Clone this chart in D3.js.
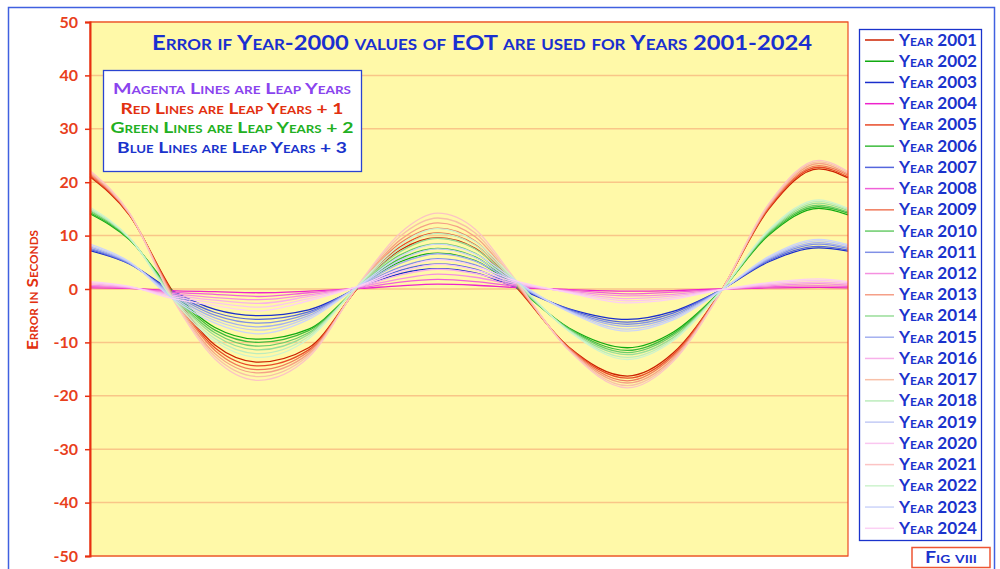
<!DOCTYPE html>
<html>
<head>
<meta charset="utf-8">
<script src="https://cdn.jsdelivr.net/npm/d3@7"></script>
<style>
    body { margin: 0; background: #fff; }
    svg text { font-family: Lato, "Open Sans", sans-serif; font-weight: 700; font-variant: small-caps; }
</style>
</head>
<body>
<div id="chart"></div>
<script>
var days = [1, 20, 40, 61, 82, 106, 131, 150, 168, 186, 204, 231, 259, 281, 303, 327, 351, 365];

// error in seconds, one array per year
var y2001 = [21.0, 13.8, 0.0, -10.5, -13.7, -11.0, 0.8, 7.3, 9.6, 7.6, 1.0, -10.9, -16.3, -12.0, -1.0, 15.0, 22.5, 20.8];
var y2002 = [14.1, 9.2, -0.1, -7.2, -9.4, -7.5, 0.6, 5.1, 6.7, 5.3, 0.8, -7.3, -11.0, -8.1, -0.7, 10.1, 15.1, 13.9];
var y2003 = [7.2, 4.7, -0.2, -3.8, -5.0, -3.9, 0.3, 2.9, 3.8, 3.0, 0.5, -3.7, -5.7, -4.2, -0.4, 5.1, 7.7, 7.1];
var y2004 = [0.2, 0.1, -0.3, -0.5, -0.7, -0.4, 0.1, 0.6, 0.9, 0.7, 0.3, -0.1, -0.4, -0.3, 0.0, 0.2, 0.3, 0.2];
var y2005 = [21.2, 13.9, -0.3, -11.0, -14.4, -11.4, 0.9, 7.9, 10.5, 8.3, 1.3, -11.0, -16.7, -12.3, -1.0, 15.2, 22.8, 21.0];
var y2006 = [14.3, 9.3, -0.4, -7.7, -10.0, -7.8, 0.7, 5.7, 7.6, 6.0, 1.0, -7.4, -11.5, -8.4, -0.7, 10.3, 15.4, 14.2];
var y2007 = [7.4, 4.7, -0.5, -4.4, -5.7, -4.3, 0.5, 3.5, 4.7, 3.7, 0.8, -3.8, -6.2, -4.5, -0.4, 5.3, 8.0, 7.3];
var y2008 = [0.5, 0.2, -0.6, -1.0, -1.4, -0.7, 0.2, 1.3, 1.8, 1.4, 0.6, -0.2, -0.9, -0.6, -0.1, 0.4, 0.6, 0.5];
var y2009 = [21.5, 14.0, -0.6, -11.5, -15.1, -11.7, 1.0, 8.6, 11.4, 9.0, 1.6, -11.1, -17.2, -12.6, -1.1, 15.4, 23.1, 21.3];
var y2010 = [14.6, 9.4, -0.7, -8.2, -10.7, -8.2, 0.8, 6.4, 8.5, 6.7, 1.3, -7.5, -11.9, -8.7, -0.8, 10.5, 15.7, 14.4];
var y2011 = [7.6, 4.8, -0.7, -4.9, -6.4, -4.6, 0.6, 4.1, 5.7, 4.5, 1.1, -4.0, -6.6, -4.9, -0.4, 5.5, 8.4, 7.6];
var y2012 = [0.7, 0.2, -0.8, -1.6, -2.0, -1.1, 0.4, 1.9, 2.8, 2.2, 0.8, -0.4, -1.3, -1.0, -0.1, 0.6, 1.0, 0.7];
var y2013 = [21.7, 14.0, -0.8, -12.1, -15.7, -12.1, 1.2, 9.2, 12.4, 9.8, 1.8, -11.3, -17.6, -13.0, -1.1, 15.6, 23.5, 21.5];
var y2014 = [14.8, 9.5, -0.9, -8.7, -11.4, -8.5, 0.9, 7.0, 9.5, 7.5, 1.6, -7.7, -12.3, -9.1, -0.8, 10.7, 16.1, 14.7];
var y2015 = [7.9, 4.9, -1.0, -5.4, -7.1, -5.0, 0.7, 4.8, 6.6, 5.2, 1.4, -4.1, -7.0, -5.2, -0.5, 5.7, 8.7, 7.8];
var y2016 = [1.0, 0.3, -1.1, -2.1, -2.7, -1.4, 0.5, 2.6, 3.7, 2.9, 1.1, -0.5, -1.8, -1.3, -0.2, 0.8, 1.3, 1.0];
var y2017 = [22.0, 14.1, -1.1, -12.6, -16.4, -12.4, 1.3, 9.9, 13.3, 10.5, 2.1, -11.4, -18.1, -13.3, -1.2, 15.8, 23.8, 21.8];
var y2018 = [15.0, 9.5, -1.2, -9.3, -12.1, -8.9, 1.1, 7.6, 10.4, 8.2, 1.9, -7.8, -12.8, -9.4, -0.8, 10.9, 16.4, 14.9];
var y2019 = [8.1, 5.0, -1.3, -5.9, -7.7, -5.3, 0.8, 5.4, 7.5, 5.9, 1.6, -4.2, -7.5, -5.5, -0.5, 5.9, 9.0, 8.1];
var y2020 = [1.2, 0.4, -1.4, -2.6, -3.4, -1.8, 0.6, 3.2, 4.6, 3.6, 1.4, -0.6, -2.2, -1.6, -0.2, 1.0, 1.6, 1.2];
var y2021 = [22.2, 14.2, -1.4, -13.1, -17.1, -12.8, 1.4, 10.5, 14.2, 11.2, 2.4, -11.5, -18.5, -13.6, -1.2, 16.0, 24.1, 22.0];
var y2022 = [15.3, 9.6, -1.5, -9.8, -12.8, -9.3, 1.2, 8.3, 11.3, 8.9, 2.2, -7.9, -13.2, -9.7, -0.9, 11.1, 16.7, 15.1];
var y2023 = [8.4, 5.1, -1.6, -6.4, -8.4, -5.7, 0.9, 6.1, 8.4, 6.6, 1.9, -4.3, -7.9, -5.8, -0.6, 6.1, 9.3, 8.3];
var y2024 = [1.4, 0.5, -1.7, -3.1, -4.1, -2.2, 0.7, 3.8, 5.5, 4.3, 1.7, -0.7, -2.6, -1.9, -0.2, 1.2, 1.9, 1.4];

var years = [2001, 2002, 2003, 2004, 2005, 2006, 2007, 2008, 2009, 2010, 2011, 2012,
             2013, 2014, 2015, 2016, 2017, 2018, 2019, 2020, 2021, 2022, 2023, 2024];
var yearValues = [y2001, y2002, y2003, y2004, y2005, y2006, y2007, y2008, y2009, y2010, y2011, y2012,
                  y2013, y2014, y2015, y2016, y2017, y2018, y2019, y2020, y2021, y2022, y2023, y2024];

var yTicks = [-50, -40, -30, -20, -10, 0, 10, 20, 30, 40, 50];

var titleText = "Error if Year-2000 values of EOT are used for Years 2001-2024";
var noteLines = ["Magenta Lines are Leap Years", "Red Lines are Leap Years + 1",
                 "Green Lines are Leap Years + 2", "Blue Lines are Leap Years + 3"];
var noteWidths = [238, 223, 243, 230];

// colours: red / green / blue / magenta groups, fading year by year
var lineColors = ["#cc2200", "#11aa11", "#1a2ecc", "#ee22cc",
                  "#e84a28", "#3cbb3c", "#5566dd", "#f060d8",
                  "#f07a5c", "#6acc6a", "#8090e6", "#f590e0",
                  "#f5a088", "#98dd98", "#a4b0f0", "#f8b0ea",
                  "#f8c0a8", "#bcecbc", "#c2caf5", "#fac6f0",
                  "#fcc4c4", "#cdf3cd", "#ccd4fa", "#fcd0f4"];
var noteColors = ["#8a44ee", "#e2300f", "#22b022", "#1a33cc"];

var width = 1000,
    height = 569,
    plot = { left: 90, right: 848, top: 22, bottom: 556 };

var svg = d3.select('#chart')
    .append('svg')
    .attr('width', width)
    .attr('height', height);

// outer frame
svg.append('rect')
    .attr('x', 8.5).attr('y', 7.5)
    .attr('width', 986).attr('height', 620)
    .attr('fill', 'none')
    .attr('stroke', '#4060e0')
    .attr('stroke-width', 1.5);

var x = d3.scaleLinear().domain([1, 365]).range([plot.left, plot.right]);
var y = d3.scaleLinear().domain([-50, 50]).range([plot.bottom, plot.top]);

svg.append('rect')
    .attr('x', plot.left).attr('y', plot.top)
    .attr('width', plot.right - plot.left)
    .attr('height', plot.bottom - plot.top)
    .attr('fill', '#fff9a8');

// grid
svg.append('g')
    .selectAll('line')
    .data(yTicks)
    .enter()
    .append('line')
    .attr('x1', plot.left).attr('x2', plot.right)
    .attr('y1', function(d) { return y(d); })
    .attr('y2', function(d) { return y(d); })
    .attr('stroke', '#f9c688')
    .attr('stroke-width', 1.5);

// curves
var line = d3.line()
    .x(function(d, i) { return x(days[i]); })
    .y(function(d) { return y(d); })
    .curve(d3.curveMonotoneX);

svg.append('g')
    .selectAll('path')
    .data(yearValues)
    .enter()
    .append('path')
    .attr('d', line)
    .attr('fill', 'none')
    .attr('stroke', function(d, i) { return lineColors[i]; })
    .attr('stroke-width', 1.3);

// frame of the plot
svg.append('rect')
    .attr('x', plot.left).attr('y', plot.top)
    .attr('width', plot.right - plot.left)
    .attr('height', plot.bottom - plot.top)
    .attr('fill', 'none')
    .attr('stroke', '#ec4a24')
    .attr('stroke-width', 1.2);

var yAxis = svg.append('g')
    .attr('transform', 'translate(' + plot.left + ',0)')
    .call(d3.axisLeft(y)
        .tickValues(yTicks)
        .tickFormat(function(d) { return String(d); })
        .tickSize(5)
        .tickPadding(7));

yAxis.select('.domain').attr('stroke', '#e83010').attr('stroke-width', 2);
yAxis.selectAll('.tick line').attr('stroke', '#e83010').attr('stroke-width', 1.5);
yAxis.selectAll('.tick text')
    .attr('fill', '#e8401c')
    .style('font-size', '16px');

// axis title
svg.append('text')
    .attr('transform', 'translate(38,290) rotate(-90)')
    .attr('text-anchor', 'middle')
    .attr('fill', '#e2300f')
    .attr('textLength', 120)
    .attr('lengthAdjust', 'spacingAndGlyphs')
    .style('font-size', '16px')
    .text('Error in Seconds');

// chart title
svg.append('text')
    .attr('x', 482).attr('y', 50)
    .attr('text-anchor', 'middle')
    .attr('fill', '#1a2fd0')
    .attr('textLength', 660)
    .attr('lengthAdjust', 'spacingAndGlyphs')
    .style('font-size', '21px')
    .text(titleText);

// note box
svg.append('rect')
    .attr('x', 103.5).attr('y', 70.5)
    .attr('width', 258).attr('height', 101)
    .attr('fill', '#fff')
    .attr('stroke', '#2a44d0')
    .attr('stroke-width', 1.3);

svg.append('g')
    .selectAll('text')
    .data(noteLines)
    .enter()
    .append('text')
    .attr('x', 232)
    .attr('y', function(d, i) { return 94 + i * 19.6; })
    .attr('text-anchor', 'middle')
    .attr('fill', function(d, i) { return noteColors[i]; })
    .attr('textLength', function(d, i) { return noteWidths[i]; })
    .attr('lengthAdjust', 'spacingAndGlyphs')
    .style('font-size', '16px')
    .text(function(d) { return d; });

// legend
svg.append('rect')
    .attr('x', 859.5).attr('y', 29.5)
    .attr('width', 122).attr('height', 511)
    .attr('fill', '#fff')
    .attr('stroke', '#1a33cc')
    .attr('stroke-width', 1.3);

var legendRows = svg.append('g')
    .selectAll('g')
    .data(years)
    .enter()
    .append('g')
    .attr('transform', function(d, i) {
        return 'translate(0,' + (40 + i * 21.23) + ')';
    });

legendRows.append('line')
    .attr('x1', 865).attr('x2', 894)
    .attr('stroke', function(d, i) { return lineColors[i]; })
    .attr('stroke-width', 1.5);

legendRows.append('text')
    .attr('x', 899)
    .attr('y', 5.5)
    .attr('fill', '#1a33cc')
    .attr('textLength', 78)
    .attr('lengthAdjust', 'spacingAndGlyphs')
    .style('font-size', '17px')
    .text(function(d) { return 'Year ' + d; });

// figure tag
svg.append('rect')
    .attr('x', 912).attr('y', 547.5)
    .attr('width', 78).attr('height', 20)
    .attr('fill', '#fff')
    .attr('stroke', '#ee5533')
    .attr('stroke-width', 1.5);

svg.append('text')
    .attr('x', 951).attr('y', 563)
    .attr('text-anchor', 'middle')
    .attr('fill', '#1a33cc')
    .attr('textLength', 52)
    .attr('lengthAdjust', 'spacingAndGlyphs')
    .style('font-size', '17px')
    .text('Fig viii');
</script>
</body>
</html>
